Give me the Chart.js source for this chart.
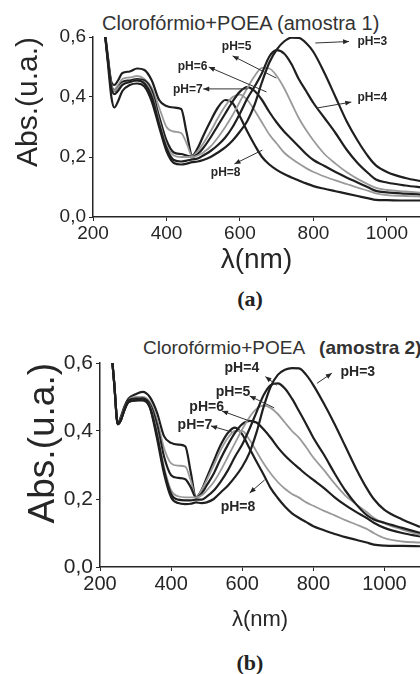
<!DOCTYPE html>
<html>
<head>
<meta charset="utf-8">
<script src="https://cdn.jsdelivr.net/npm/chart.js@4.4.0/dist/chart.umd.min.js"></script>
<style>
  html, body { margin: 0; padding: 0; background: #fff; }
  body { width: 420px; height: 674px; position: relative; overflow: hidden;
         font-family: "Liberation Sans", Arial, sans-serif; color: #262626; }
  canvas { position: absolute; left: 0; }
  #chartA { top: 0; }
  #chartB { top: 320px; }
  .ttl { position: absolute; white-space: nowrap; line-height: 1; color: #333; }
  .cap { position: absolute; left: 200px; width: 100px; text-align: center; line-height: 1;
         font: bold 22px "Liberation Serif", "Times New Roman", serif; color: #222; }
</style>
</head>
<body>
<div class="ttl" style="left:102px; top:13px; font-size:20px;">Clorofórmio+POEA (amostra 1)</div>
<canvas id="chartA" width="420" height="280"></canvas>
<div class="cap" style="top:286px;">(a)</div>

<div class="ttl" style="left:143px; top:338px; font-size:19px;">Clorofórmio+POEA<b style="margin-left:14px;">(amostra 2)</b></div>
<canvas id="chartB" width="420" height="320"></canvas>
<div class="cap" style="top:650px;">(b)</div>

<script>
// wavelengths (nm), shared by every spectrum
const wl = [230, 240, 250, 258, 268, 280, 300, 320, 340, 360, 380, 400, 420, 440, 455, 470, 485,
            500, 520, 540, 560, 580, 600, 620, 640, 660, 680, 700, 720, 740, 760, 780, 800,
            830, 860, 890, 920, 950, 970, 1000, 1050, 1100];
const phLabels = ['pH=3', 'pH=4', 'pH=5', 'pH=6', 'pH=7', 'pH=8'];
const xTicks = [200, 400, 600, 800, 1000];
const yTicks = [0, 0.2, 0.4, 0.6];

// (a) amostra 1
const absA3 = [0.64, 0.52, 0.40, 0.365, 0.385, 0.42, 0.44, 0.445, 0.435, 0.385, 0.30, 0.22, 0.18, 0.175, 0.178, 0.183, 0.185,
               0.19, 0.20, 0.215, 0.232, 0.255, 0.285, 0.32, 0.375, 0.45, 0.515, 0.558, 0.585, 0.598, 0.597, 0.58, 0.55,
               0.48, 0.40, 0.32, 0.255, 0.20, 0.172, 0.15, 0.13, 0.118];
const absA4 = [0.64, 0.53, 0.43, 0.41, 0.42, 0.44, 0.45, 0.455, 0.445, 0.40, 0.31, 0.23, 0.19, 0.185, 0.188, 0.192, 0.195,
               0.205, 0.22, 0.24, 0.265, 0.30, 0.345, 0.395, 0.435, 0.48, 0.535, 0.556, 0.545, 0.51, 0.46, 0.42, 0.38,
               0.33, 0.28, 0.225, 0.18, 0.145, 0.125, 0.115, 0.105, 0.098];
const absA5 = [0.64, 0.53, 0.44, 0.42, 0.43, 0.445, 0.45, 0.455, 0.45, 0.41, 0.32, 0.24, 0.205, 0.20, 0.20, 0.20, 0.205,
               0.215, 0.235, 0.265, 0.30, 0.34, 0.385, 0.43, 0.47, 0.497, 0.495, 0.47, 0.43, 0.38, 0.33, 0.29, 0.255,
               0.21, 0.178, 0.15, 0.127, 0.108, 0.097, 0.09, 0.085, 0.08];
const absA6 = [0.64, 0.53, 0.44, 0.42, 0.43, 0.45, 0.455, 0.46, 0.455, 0.42, 0.335, 0.255, 0.215, 0.21, 0.205, 0.20, 0.21,
               0.23, 0.265, 0.305, 0.345, 0.385, 0.418, 0.433, 0.42, 0.39, 0.35, 0.315, 0.285, 0.26, 0.235, 0.21, 0.19,
               0.17, 0.15, 0.132, 0.115, 0.098, 0.087, 0.082, 0.078, 0.075];
const absA7 = [0.64, 0.53, 0.44, 0.425, 0.44, 0.46, 0.465, 0.47, 0.46, 0.43, 0.365, 0.30, 0.285, 0.28, 0.245, 0.203, 0.22,
               0.245, 0.285, 0.33, 0.37, 0.40, 0.408, 0.39, 0.355, 0.315, 0.275, 0.245, 0.215, 0.195, 0.178, 0.163, 0.15,
               0.135, 0.122, 0.11, 0.098, 0.087, 0.079, 0.073, 0.07, 0.068];
const absA8 = [0.64, 0.54, 0.45, 0.44, 0.455, 0.48, 0.485, 0.495, 0.49, 0.455, 0.39, 0.37, 0.365, 0.36, 0.28, 0.205, 0.23,
               0.27, 0.32, 0.365, 0.39, 0.38, 0.335, 0.285, 0.24, 0.20, 0.175, 0.157, 0.143, 0.132, 0.122, 0.112, 0.103,
               0.094, 0.086, 0.078, 0.07, 0.062, 0.057, 0.056, 0.055, 0.055];

// (b) amostra 2
const absB3 = [0.66, 0.54, 0.42, 0.43, 0.46, 0.485, 0.49, 0.495, 0.47, 0.38, 0.275, 0.205, 0.188, 0.185, 0.186, 0.19, 0.188,
               0.19, 0.20, 0.22, 0.24, 0.265, 0.295, 0.335, 0.395, 0.47, 0.53, 0.565, 0.58, 0.585, 0.584, 0.565, 0.535,
               0.48, 0.42, 0.355, 0.29, 0.232, 0.20, 0.168, 0.14, 0.118];
const absB4 = [0.66, 0.54, 0.42, 0.43, 0.46, 0.485, 0.49, 0.49, 0.47, 0.39, 0.285, 0.215, 0.198, 0.196, 0.196, 0.198, 0.198,
               0.207, 0.225, 0.252, 0.285, 0.325, 0.36, 0.405, 0.455, 0.505, 0.535, 0.54, 0.525, 0.495, 0.458, 0.42, 0.38,
               0.33, 0.275, 0.225, 0.185, 0.153, 0.14, 0.13, 0.115, 0.10];
const absB5 = [0.66, 0.54, 0.42, 0.43, 0.46, 0.485, 0.49, 0.49, 0.475, 0.40, 0.295, 0.225, 0.208, 0.205, 0.205, 0.205, 0.21,
               0.225, 0.25, 0.285, 0.325, 0.365, 0.405, 0.44, 0.465, 0.475, 0.468, 0.45, 0.425, 0.40, 0.38, 0.352, 0.322,
               0.285, 0.245, 0.21, 0.185, 0.162, 0.145, 0.128, 0.11, 0.094];
const absB6 = [0.66, 0.54, 0.42, 0.43, 0.46, 0.49, 0.495, 0.495, 0.48, 0.42, 0.325, 0.27, 0.262, 0.258, 0.235, 0.205, 0.215,
               0.24, 0.275, 0.32, 0.36, 0.395, 0.42, 0.43, 0.425, 0.405, 0.38, 0.352, 0.328, 0.308, 0.29, 0.272, 0.256,
               0.232, 0.205, 0.182, 0.162, 0.144, 0.13, 0.115, 0.10, 0.09];
const absB7 = [0.66, 0.54, 0.42, 0.435, 0.465, 0.49, 0.50, 0.50, 0.485, 0.435, 0.35, 0.305, 0.298, 0.295, 0.255, 0.205, 0.225,
               0.255, 0.30, 0.345, 0.38, 0.40, 0.40, 0.375, 0.34, 0.305, 0.275, 0.25, 0.23, 0.215, 0.204, 0.19, 0.18,
               0.165, 0.152, 0.138, 0.125, 0.112, 0.10, 0.085, 0.075, 0.072];
const absB8 = [0.66, 0.54, 0.42, 0.44, 0.47, 0.495, 0.508, 0.515, 0.50, 0.455, 0.385, 0.365, 0.36, 0.355, 0.28, 0.205, 0.225,
               0.262, 0.312, 0.36, 0.395, 0.41, 0.39, 0.35, 0.31, 0.272, 0.232, 0.203, 0.178, 0.158, 0.144, 0.132, 0.12,
               0.108, 0.097, 0.088, 0.08, 0.072, 0.066, 0.063, 0.062, 0.061];

// pH labels: label centre, arrow tail, arrow head (nm, abs)
const labelPosA  = [[960, 0.583], [960, 0.397], [591, 0.567], [471, 0.50], [458, 0.423], [561, 0.147]];
const arrowFromA = [[805, 0.58], [808, 0.363], [699, 0.463], [672, 0.417], [621, 0.427], [661, 0.223]];
const arrowToA   = [[897, 0.585], [903, 0.383], [580, 0.537], [515, 0.50], [500, 0.427], [585, 0.177]];
const labelPosB  = [[925, 0.574], [599, 0.585], [574, 0.515], [500, 0.47], [467, 0.418], [588, 0.176]];
const arrowFromB = [[810, 0.54], [697, 0.535], [690, 0.468], [635, 0.424], [571, 0.397], [663, 0.256]];
const arrowToB   = [[852, 0.57], [665, 0.56], [621, 0.503], [543, 0.459], [512, 0.415], [621, 0.218]];

const ink = '#262626';
const lineColors = ['#1f1f1f', '#1f1f1f', '#9a9a9a', '#1f1f1f', '#9a9a9a', '#1f1f1f'];
const lineWidths = [2.2, 2.2, 1.8, 2.2, 1.8, 2.2];

Chart.defaults.font.family = '"Liberation Sans", Arial, sans-serif';

function arrowPlugin(pos, from, to, fontSize) {
  return {
    id: 'phArrows',
    afterDatasetsDraw(chart) {
      const {ctx, scales: {x, y}} = chart;
      ctx.save();
      ctx.fillStyle = ink;
      ctx.strokeStyle = '#333';
      ctx.lineWidth = 1;
      ctx.font = 'bold ' + fontSize + 'px "Liberation Sans", Arial, sans-serif';
      ctx.textAlign = 'center';
      ctx.textBaseline = 'middle';
      phLabels.forEach((t, i) => {
        ctx.fillText(t, x.getPixelForValue(pos[i][0]), y.getPixelForValue(pos[i][1]));
        const x0 = x.getPixelForValue(from[i][0]), y0 = y.getPixelForValue(from[i][1]);
        const x1 = x.getPixelForValue(to[i][0]), y1 = y.getPixelForValue(to[i][1]);
        const a = Math.atan2(y1 - y0, x1 - x0);
        ctx.beginPath();
        ctx.moveTo(x0, y0);
        ctx.lineTo(x1, y1);
        ctx.stroke();
        ctx.beginPath();
        ctx.moveTo(x1, y1);
        ctx.lineTo(x1 - 6 * Math.cos(a) + 2.5 * Math.sin(a), y1 - 6 * Math.sin(a) - 2.5 * Math.cos(a));
        ctx.lineTo(x1 - 6 * Math.cos(a) - 2.5 * Math.sin(a), y1 - 6 * Math.sin(a) + 2.5 * Math.cos(a));
        ctx.closePath();
        ctx.fill();
      });
      ctx.restore();
    }
  };
}

function makeChart(id, series, f, ann) {
  const datasets = series.map((vals, i) => ({
    label: phLabels[i],
    data: wl.map((w, j) => ({x: w, y: vals[j]})),
    borderColor: lineColors[i],
    borderWidth: lineWidths[i],
    pointRadius: 0,
    cubicInterpolationMode: 'monotone',
    fill: false
  }));
  return new Chart(document.getElementById(id), {
    type: 'line',
    data: {datasets},
    options: {
      responsive: false,
      animation: false,
      devicePixelRatio: 1,
      layout: {padding: {top: f.top, left: 0, right: 0, bottom: 0}},
      plugins: {legend: {display: false}, tooltip: {enabled: false}},
      scales: {
        x: {
          type: 'linear', min: 200, max: f.xMax,
          afterBuildTicks: s => { s.ticks = xTicks.map(v => ({value: v})); },
          afterFit: s => { s.height = f.xAxisH; },
          grid: {drawOnChartArea: false, tickLength: 4, color: ink},
          border: {color: ink, width: 1.5},
          ticks: {font: {size: f.xTick}, color: ink, padding: 1, maxRotation: 0,
                  callback: v => String(v)},
          title: {display: true, text: 'λ(nm)', font: {size: f.xTitle}, color: ink,
                  padding: {top: 0, bottom: f.xTitlePad}}
        },
        y: {
          min: 0, max: 0.6,
          afterBuildTicks: s => { s.ticks = yTicks.map(v => ({value: v})); },
          afterFit: s => { s.width = f.yAxisW; },
          grid: {drawOnChartArea: false, tickLength: 4, color: ink},
          border: {color: ink, width: 1.5},
          ticks: {font: {size: f.yTick}, color: ink, padding: 3,
                  callback: v => v.toFixed(1).replace('.', ',')},
          title: {display: true, text: 'Abs.(u.a.)', align: 'end', font: {size: f.yTitle}, color: ink,
                  padding: {top: f.yTitlePad, bottom: 0}}
        }
      }
    },
    plugins: [arrowPlugin(ann[0], ann[1], ann[2], f.annFont)]
  });
}

makeChart('chartA', [absA3, absA4, absA5, absA6, absA7, absA8],
  {top: 37, xMax: 1090, xAxisH: 63, yAxisW: 93, xTick: 19, yTick: 19, xTitle: 28, xTitlePad: 3,
   yTitle: 30, yTitlePad: 11, annFont: 12},
  [labelPosA, arrowFromA, arrowToA]);

makeChart('chartB', [absB3, absB4, absB5, absB6, absB7, absB8],
  {top: 43, xMax: 1100, xAxisH: 73, yAxisW: 100, xTick: 20, yTick: 21, xTitle: 22, xTitlePad: 7,
   yTitle: 37, yTitlePad: 22, annFont: 14},
  [labelPosB, arrowFromB, arrowToB]);
</script>
</body>
</html>
